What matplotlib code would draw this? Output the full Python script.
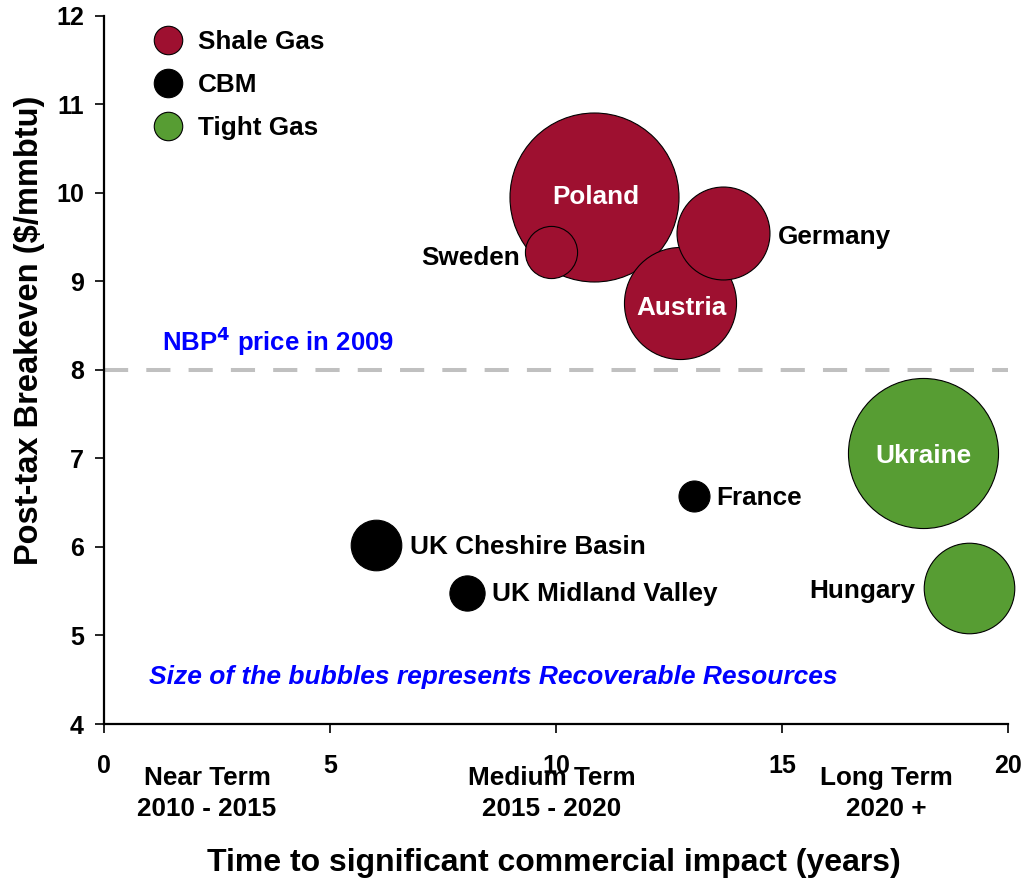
import matplotlib
matplotlib.use("Agg")
import matplotlib.pyplot as plt
from matplotlib.lines import Line2D

plt.rcParams['font.family'] = ['Liberation Sans', 'DejaVu Sans']
plt.rcParams['font.weight'] = 'bold'

# ---- data ----
countries = ["Poland", "Sweden", "Austria", "Germany", "France",
             "UK Cheshire Basin", "UK Midland Valley", "Ukraine", "Hungary"]
gas_type = ["Shale Gas", "Shale Gas", "Shale Gas", "Shale Gas", "CBM",
            "CBM", "CBM", "Tight Gas", "Tight Gas"]
years = [10.85, 9.89, 12.74, 13.7, 13.06, 6.02, 8.02, 18.11, 19.13]
breakeven = [9.95, 9.33, 8.75, 9.55, 6.58, 6.02, 5.48, 7.06, 5.54]
resources = [71.4, 6.8, 31.4, 21.6, 2.4, 6.4, 3.1, 56.3, 20.5]

type_names = ["Shale Gas", "CBM", "Tight Gas"]
type_colors = {"Shale Gas": "#9E1030", "CBM": "#000000", "Tight Gas": "#579D33"}

x_ticks = [0, 5, 10, 15, 20]
y_ticks = [4, 5, 6, 7, 8, 9, 10, 11, 12]
term_labels = ["Near Term\n2010 - 2015", "Medium Term\n2015 - 2020", "Long Term\n2020 +"]
term_pos = [2.28, 9.9, 17.3]
nbp_price = 8

# label placement (offset in pixels, alignment, inside-bubble flag)
label_style = {
    "Poland": ((1, 0), "center", True),
    "Sweden": ((-31, -6), "right", False),
    "Austria": ((2, -5), "center", True),
    "Germany": ((55, -4), "left", False),
    "France": ((22, -2), "left", False),
    "UK Cheshire Basin": ((34, -2), "left", False),
    "UK Midland Valley": ((25, -1), "left", False),
    "Ukraine": ((1, -3), "center", True),
    "Hungary": ((-53, -3), "right", False),
}

SIZE_SCALE = 207.4
FS = 18.8

fig = plt.figure(figsize=(10.3, 8.81), dpi=100)
W, H = 1030, 881
ax = fig.add_axes([104 / W, 1 - 724 / H, (1008 - 104) / W, (724 - 15.7) / H])
ax.set_xlim(0, 20)
ax.set_ylim(4, 12)

ax.axhline(nbp_price, color="#C0C0C0", lw=2.9, dashes=(6, 4.5), zorder=1)

for i, c in enumerate(countries):
    ax.scatter(years[i], breakeven[i], s=resources[i] * SIZE_SCALE,
               color=type_colors[gas_type[i]], edgecolor="black",
               linewidth=0.8, zorder=2 + i, clip_on=False)
    (dx, dy), ha, inside = label_style[c]
    ax.annotate(c, (years[i], breakeven[i]), xytext=(dx, dy),
                textcoords="offset pixels", ha=ha, va="center",
                fontsize=FS, fontweight="bold",
                color="white" if inside else "black", zorder=20)

ax.spines["top"].set_visible(False)
ax.spines["right"].set_visible(False)
for s in ["left", "bottom"]:
    ax.spines[s].set_linewidth(1.6)
ax.set_xticks(x_ticks)
ax.set_yticks(y_ticks)
ax.tick_params(axis="x", direction="out", length=6.5, width=1.2, pad=15, labelsize=18)
ax.tick_params(axis="y", direction="out", length=6.5, width=1.2, pad=8, labelsize=18)

for t, p in zip(term_labels, term_pos):
    ax.text(p, -0.06, t, transform=ax.get_xaxis_transform(), ha="center", va="top",
            fontsize=FS, fontweight="bold", linespacing=1.32)

ax.text(1.28, 8.32, "NBP$^{\\mathbf{4}}$ price in 2009", color="#0000FF",
        fontsize=18.5, fontweight="bold", va="center", ha="left")
ax.text(1.0, 4.53, "Size of the bubbles represents Recoverable Resources",
        color="#0000FF", fontsize=19, fontweight="bold", style="italic",
        va="center", ha="left")

fig.text(554 / W, 1 - 863 / H, "Time to significant commercial impact (years)",
         ha="center", va="center", fontsize=23, fontweight="bold")
fig.text(30 / W, 1 - 330 / H, "Post-tax Breakeven ($/mmbtu)", rotation=90,
         ha="center", va="center", fontsize=23.5, fontweight="bold")

handles = [Line2D([], [], marker="o", linestyle="none", markersize=20.5,
                  markerfacecolor=type_colors[t], markeredgecolor="black",
                  markeredgewidth=0.8) for t in type_names]
ax.legend(handles, type_names, loc="upper left", bbox_to_anchor=(135 / W, 1 - 17 / H),
          bbox_transform=fig.transFigure, frameon=False,
          labelspacing=0.72, handletextpad=0.4, borderpad=0, handlelength=1.5,
          prop={"weight": "bold", "size": FS})

fig.savefig("out.png", dpi=100)
